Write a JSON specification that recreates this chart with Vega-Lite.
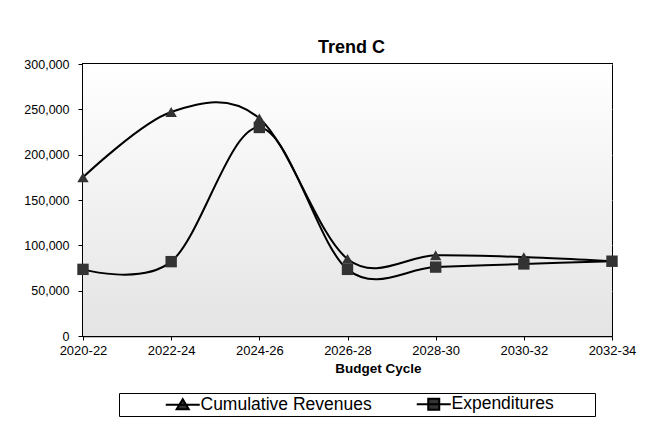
{
  "$schema": "https://vega.github.io/schema/vega-lite/v6.json",
  "width": 529,
  "height": 272,
  "autosize": {"type": "none"},
  "padding": {"left": 83, "top": 64, "right": 33, "bottom": 91},
  "background": "white",
  "title": {"text": "Trend C", "fontSize": 18, "font": "Liberation Sans", "fontWeight": "bold", "color": "black", "offset": 1, "anchor": "middle", "dx": 4},
  "config": {
    "view": {"stroke": "black", "strokeWidth": 2},
    "font": "Liberation Sans"
  },
  "resolve": {"scale": {"shape": "independent"}, "legend": {"shape": "independent"}},
  "datasets": {
    "main": [
      {"cycle": "2020-22", "series": "Cumulative Revenues", "value": 175000},
      {"cycle": "2022-24", "series": "Cumulative Revenues", "value": 247000},
      {"cycle": "2024-26", "series": "Cumulative Revenues", "value": 240000},
      {"cycle": "2026-28", "series": "Cumulative Revenues", "value": 85000},
      {"cycle": "2028-30", "series": "Cumulative Revenues", "value": 89000},
      {"cycle": "2030-32", "series": "Cumulative Revenues", "value": 87000},
      {"cycle": "2032-34", "series": "Cumulative Revenues", "value": 82500},
      {"cycle": "2020-22", "series": "Expenditures", "value": 73500},
      {"cycle": "2022-24", "series": "Expenditures", "value": 82000},
      {"cycle": "2024-26", "series": "Expenditures", "value": 230000},
      {"cycle": "2026-28", "series": "Expenditures", "value": 73500},
      {"cycle": "2028-30", "series": "Expenditures", "value": 76000},
      {"cycle": "2030-32", "series": "Expenditures", "value": 79500},
      {"cycle": "2032-34", "series": "Expenditures", "value": 82500}
    ],
    "bg": [{"top": 300000, "bottom": 0}],
    "none": []
  },
  "layer": [
    {
      "data": {"name": "bg"},
      "mark": {"type": "rect", "color": {"gradient": "linear", "x1": 0, "y1": 0, "x2": 0, "y2": 1, "stops": [{"offset": 0, "color": "#ffffff"}, {"offset": 1, "color": "#e4e4e4"}]}},
      "encoding": {
        "y": {"field": "top", "type": "quantitative", "scale": {"domain": [0, 300000], "nice": false},
          "axis": {"title": null, "values": [0, 50000, 100000, 150000, 200000, 250000, 300000], "format": ",d", "labelFontSize": 12.5, "labelColor": "black", "labelPadding": 9, "tickSize": 5, "tickColor": "black", "domainColor": "black", "domainWidth": 1.5, "gridColor": "#b0b0b0", "gridWidth": 1}},
        "y2": {"field": "bottom"}
      }
    },
    {
      "data": {"name": "main"},
      "mark": {"type": "line", "interpolate": "cardinal", "color": "black", "strokeWidth": 2},
      "encoding": {
        "x": {"field": "cycle", "type": "ordinal", "sort": null, "scale": {"type": "point", "padding": 0},
          "axis": {"title": "Budget Cycle", "titleFontSize": 13.5, "titleFontWeight": "bold", "titleColor": "black", "titlePadding": 4, "titleX": 295, "labelAngle": 0, "labelFontSize": 13, "labelColor": "black", "labelPadding": 4, "tickSize": 4, "tickColor": "black", "domainColor": "black", "domainWidth": 1.5, "grid": false}},
        "y": {"field": "value", "type": "quantitative", "scale": {"domain": [0, 300000], "nice": false},
          "axis": {"title": null, "values": [0, 50000, 100000, 150000, 200000, 250000, 300000], "format": ",d", "labelFontSize": 12.5, "labelColor": "black", "labelPadding": 9, "tickSize": 5, "tickColor": "black", "domainColor": "black", "domainWidth": 1.5, "gridColor": "#b0b0b0", "gridWidth": 1}},
        "detail": {"field": "series"}
      }
    },
    {
      "data": {"name": "main"},
      "mark": {"type": "point", "filled": true, "opacity": 1, "color": "#333333", "size": 130},
      "encoding": {
        "x": {"field": "cycle", "type": "ordinal", "sort": null},
        "y": {"field": "value", "type": "quantitative"},
        "shape": {"field": "series", "type": "nominal", "scale": {"domain": ["Cumulative Revenues", "Expenditures"], "range": ["triangle-up", "square"]}, "legend": null}
      }
    },
    {
      "data": {"name": "none"},
      "mark": {"type": "point", "filled": true, "opacity": 1, "fill": "#333333", "stroke": "black", "strokeWidth": 2, "size": 100},
      "encoding": {
        "x": {"field": "cycle", "type": "ordinal", "sort": null},
        "y": {"field": "value", "type": "quantitative"},
        "shape": {"field": "series", "type": "nominal",
          "scale": {"domain": ["Cumulative Revenues", "Expenditures"], "range": ["M-3.4,0H3.4M-1.2,0.9L0,-1.1L1.2,0.9Z", "M-3.4,0H3.4M-1.1,-1.1H1.1V1.1H-1.1Z"]},
          "legend": {
            "title": null, "orient": "none", "legendX": 36, "legendY": 329, "direction": "horizontal",
            "strokeColor": "black", "fillColor": "white", "padding": 2,
            "labelFont": "Liberation Sans", "labelFontSize": 17.5, "labelColor": "black", "labelLimit": 400,
            "symbolSize": 100, "symbolOffset": 53, "labelOffset": 9, "columnPadding": -1,
            "symbolStrokeWidth": 2, "symbolOpacity": 1,
            "labelExpr": "datum.label == 'Expenditures' ? datum.label + '\u00a0\u00a0\u00a0\u00a0\u00a0\u00a0\u00a0\u00a0\u200b' : datum.label"
          }}
      }
    }
  ]
}
